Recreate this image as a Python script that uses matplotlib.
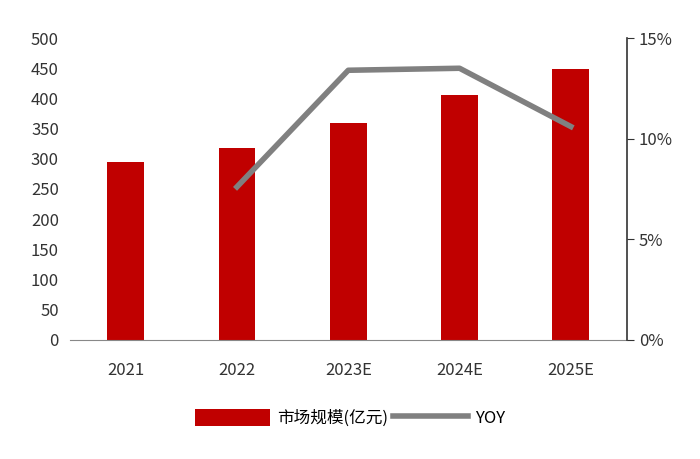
import matplotlib
matplotlib.use("Agg")
import matplotlib.pyplot as plt
from matplotlib.ticker import FuncFormatter

plt.rcParams['font.family'] = ['Noto Sans CJK SC', 'DejaVu Sans']

categories = ["2021", "2022", "2023E", "2024E", "2025E"]
market = [294, 317, 359, 405, 449]
yoy_cats = ["2022", "2023E", "2024E", "2025E"]
yoy = [7.6, 13.4, 13.5, 10.6]

fig = plt.figure(figsize=(7.0, 4.59), dpi=100)
ax = fig.add_axes([0.1, 0.26, 0.795, 0.657])
x = list(range(len(categories)))
ax.bar(x, market, width=0.33, color="#C00000", label="市场规模(亿元)", zorder=2)
ax.set_ylim(0, 500)
ax.set_yticks(range(0, 501, 50))
ax.set_xlim(-0.5, 4.5)
ax.set_xticks(x)
ax.set_xticklabels(categories)
for s in ["top", "left", "right"]:
    ax.spines[s].set_visible(False)
ax.spines["bottom"].set_color("#888888")
ax.tick_params(axis="y", length=0, labelsize=12, colors="#333333", pad=8)
ax.tick_params(axis="x", length=0, labelsize=12, colors="#333333", pad=16)

ax2 = ax.twinx()
xi = [categories.index(c) for c in yoy_cats]
ax2.plot(xi, yoy, color="#808080", linewidth=4, label="YOY", zorder=3)
ax2.set_ylim(0, 15)
ax2.set_yticks([0, 5, 10, 15])
ax2.yaxis.set_major_formatter(FuncFormatter(lambda v, p: f"{v:.0f}%"))
for s in ["top", "left", "bottom"]:
    ax2.spines[s].set_visible(False)
ax2.spines["right"].set_color("#333333")
ax2.spines["right"].set_linewidth(1.2)
ax2.tick_params(axis="y", length=5, direction="out", labelsize=12, colors="#333333", pad=4)

h1, l1 = ax.get_legend_handles_labels()
h2, l2 = ax2.get_legend_handles_labels()
fig.legend(h1 + h2, l1 + l2, loc="center", bbox_to_anchor=(0.5, 0.09), ncol=2,
           frameon=False, fontsize=12, handlelength=4.5, handleheight=1.2,
           columnspacing=0.3, handletextpad=0.4)
fig.savefig("out.png", dpi=100)
